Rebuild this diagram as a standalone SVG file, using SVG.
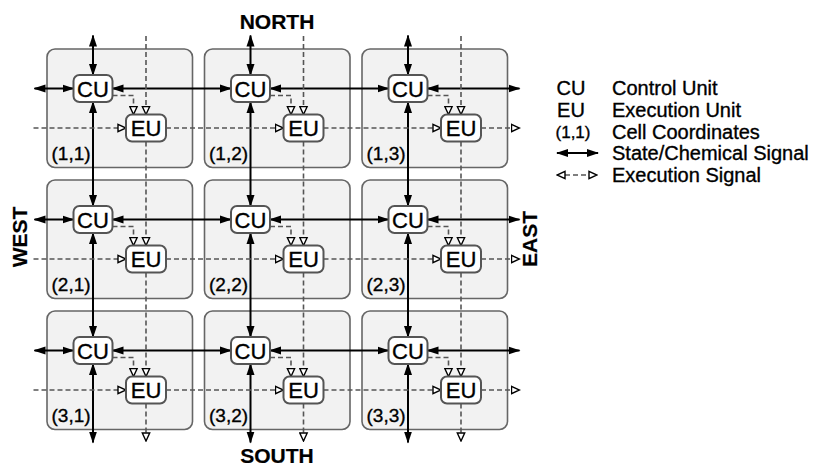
<svg xmlns="http://www.w3.org/2000/svg" width="832" height="466" viewBox="0 0 832 466">
<style>
.cell{fill:#f2f2f2;stroke:#666;stroke-width:1.6}
.box{fill:#fff;stroke:#555;stroke-width:2}
text{font-family:"Liberation Sans",Arial,sans-serif;fill:#000;stroke:#000;stroke-width:0.35}
.nt{font-size:22px;text-anchor:middle}
.lab{font-size:19px}
.dir{font-size:21px;font-weight:bold;text-anchor:middle;stroke-width:0.2}
.leg{font-size:20px}
.legc{font-size:20px;text-anchor:middle}
.s{stroke:#000;stroke-width:2;fill:none;marker-start:url(#sa);marker-end:url(#sa)}
.d{stroke:#555;stroke-width:1.6;stroke-dasharray:5,3;fill:none;marker-end:url(#oa)}
</style>
<defs>
<marker id="sa" markerUnits="userSpaceOnUse" markerWidth="12" markerHeight="10" viewBox="0 0 12 10" refX="11" refY="5" orient="auto-start-reverse"><path d="M0,1 L12,5 L0,9 z" fill="#000"/></marker>
<marker id="oa" markerUnits="userSpaceOnUse" markerWidth="10" markerHeight="10" viewBox="0 0 10 10" refX="9" refY="5" orient="auto-start-reverse"><path d="M1,1.3 L9,5 L1,8.7 z" fill="#fff" stroke="#000" stroke-width="1.4" stroke-linejoin="miter"/></marker>
</defs>

<g id="cells">
<g id="cell-1-1"><rect class="cell" x="47" y="49" width="145.5" height="118.5" rx="8"/><text class="lab" x="51.5" y="160">(1,1)</text></g>
<g id="cell-1-2"><rect class="cell" x="204.5" y="49" width="145.5" height="118.5" rx="8"/><text class="lab" x="209" y="160">(1,2)</text></g>
<g id="cell-1-3"><rect class="cell" x="362" y="49" width="145.5" height="118.5" rx="8"/><text class="lab" x="366.5" y="160">(1,3)</text></g>
<g id="cell-2-1"><rect class="cell" x="47" y="180" width="145.5" height="118.5" rx="8"/><text class="lab" x="51.5" y="291">(2,1)</text></g>
<g id="cell-2-2"><rect class="cell" x="204.5" y="180" width="145.5" height="118.5" rx="8"/><text class="lab" x="209" y="291">(2,2)</text></g>
<g id="cell-2-3"><rect class="cell" x="362" y="180" width="145.5" height="118.5" rx="8"/><text class="lab" x="366.5" y="291">(2,3)</text></g>
<g id="cell-3-1"><rect class="cell" x="47" y="311" width="145.5" height="118.5" rx="8"/><text class="lab" x="51.5" y="422">(3,1)</text></g>
<g id="cell-3-2"><rect class="cell" x="204.5" y="311" width="145.5" height="118.5" rx="8"/><text class="lab" x="209" y="422">(3,2)</text></g>
<g id="cell-3-3"><rect class="cell" x="362" y="311" width="145.5" height="118.5" rx="8"/><text class="lab" x="366.5" y="422">(3,3)</text></g>
</g>

<g id="connectors">
<line class="s" x1="93" y1="35.5" x2="93" y2="75"/><line class="s" x1="93" y1="102" x2="93" y2="206"/><line class="s" x1="93" y1="233" x2="93" y2="337"/><line class="s" x1="93" y1="364" x2="93" y2="442.5"/>
<line class="s" x1="250.5" y1="35.5" x2="250.5" y2="75"/><line class="s" x1="250.5" y1="102" x2="250.5" y2="206"/><line class="s" x1="250.5" y1="233" x2="250.5" y2="337"/><line class="s" x1="250.5" y1="364" x2="250.5" y2="442.5"/>
<line class="s" x1="408" y1="35.5" x2="408" y2="75"/><line class="s" x1="408" y1="102" x2="408" y2="206"/><line class="s" x1="408" y1="233" x2="408" y2="337"/><line class="s" x1="408" y1="364" x2="408" y2="442.5"/>
<line class="s" x1="34.5" y1="88.5" x2="73.5" y2="88.5"/><line class="s" x1="112.5" y1="88.5" x2="231" y2="88.5"/><line class="s" x1="270" y1="88.5" x2="388.5" y2="88.5"/><line class="s" x1="427.5" y1="88.5" x2="519.5" y2="88.5"/>
<line class="s" x1="34.5" y1="219.5" x2="73.5" y2="219.5"/><line class="s" x1="112.5" y1="219.5" x2="231" y2="219.5"/><line class="s" x1="270" y1="219.5" x2="388.5" y2="219.5"/><line class="s" x1="427.5" y1="219.5" x2="519.5" y2="219.5"/>
<line class="s" x1="34.5" y1="350.5" x2="73.5" y2="350.5"/><line class="s" x1="112.5" y1="350.5" x2="231" y2="350.5"/><line class="s" x1="270" y1="350.5" x2="388.5" y2="350.5"/><line class="s" x1="427.5" y1="350.5" x2="519.5" y2="350.5"/>
<line class="d" x1="146" y1="36" x2="146" y2="114.5"/><line class="d" x1="146" y1="141.5" x2="146" y2="245.5"/><line class="d" x1="146" y1="272.5" x2="146" y2="376.5"/><line class="d" x1="146" y1="403.5" x2="146" y2="441"/>
<line class="d" x1="303.5" y1="36" x2="303.5" y2="114.5"/><line class="d" x1="303.5" y1="141.5" x2="303.5" y2="245.5"/><line class="d" x1="303.5" y1="272.5" x2="303.5" y2="376.5"/><line class="d" x1="303.5" y1="403.5" x2="303.5" y2="441"/>
<line class="d" x1="461" y1="36" x2="461" y2="114.5"/><line class="d" x1="461" y1="141.5" x2="461" y2="245.5"/><line class="d" x1="461" y1="272.5" x2="461" y2="376.5"/><line class="d" x1="461" y1="403.5" x2="461" y2="441"/>
<line class="d" x1="33.5" y1="128" x2="126" y2="128"/><line class="d" x1="166" y1="128" x2="283.5" y2="128"/><line class="d" x1="323.5" y1="128" x2="441" y2="128"/><line class="d" x1="481" y1="128" x2="519.5" y2="128"/>
<line class="d" x1="33.5" y1="259" x2="126" y2="259"/><line class="d" x1="166" y1="259" x2="283.5" y2="259"/><line class="d" x1="323.5" y1="259" x2="441" y2="259"/><line class="d" x1="481" y1="259" x2="519.5" y2="259"/>
<line class="d" x1="33.5" y1="390" x2="126" y2="390"/><line class="d" x1="166" y1="390" x2="283.5" y2="390"/><line class="d" x1="323.5" y1="390" x2="441" y2="390"/><line class="d" x1="481" y1="390" x2="519.5" y2="390"/>
<path class="d" d="M112.5,95.5 H133.5 V114.5"/><path class="d" d="M270,95.5 H291 V114.5"/><path class="d" d="M427.5,95.5 H448.5 V114.5"/>
<path class="d" d="M112.5,226.5 H133.5 V245.5"/><path class="d" d="M270,226.5 H291 V245.5"/><path class="d" d="M427.5,226.5 H448.5 V245.5"/>
<path class="d" d="M112.5,357.5 H133.5 V376.5"/><path class="d" d="M270,357.5 H291 V376.5"/><path class="d" d="M427.5,357.5 H448.5 V376.5"/>
</g>

<g id="nodes">
<g id="cu-1-1"><rect class="box" x="73.5" y="75" width="39" height="27" rx="6"/><text class="nt" x="93" y="96.5">CU</text></g>
<g id="eu-1-1"><rect class="box" x="126" y="114.5" width="40" height="27" rx="6"/><text class="nt" x="146" y="136">EU</text></g>
<g id="cu-1-2"><rect class="box" x="231" y="75" width="39" height="27" rx="6"/><text class="nt" x="250.5" y="96.5">CU</text></g>
<g id="eu-1-2"><rect class="box" x="283.5" y="114.5" width="40" height="27" rx="6"/><text class="nt" x="303.5" y="136">EU</text></g>
<g id="cu-1-3"><rect class="box" x="388.5" y="75" width="39" height="27" rx="6"/><text class="nt" x="408" y="96.5">CU</text></g>
<g id="eu-1-3"><rect class="box" x="441" y="114.5" width="40" height="27" rx="6"/><text class="nt" x="461" y="136">EU</text></g>
<g id="cu-2-1"><rect class="box" x="73.5" y="206" width="39" height="27" rx="6"/><text class="nt" x="93" y="227.5">CU</text></g>
<g id="eu-2-1"><rect class="box" x="126" y="245.5" width="40" height="27" rx="6"/><text class="nt" x="146" y="267">EU</text></g>
<g id="cu-2-2"><rect class="box" x="231" y="206" width="39" height="27" rx="6"/><text class="nt" x="250.5" y="227.5">CU</text></g>
<g id="eu-2-2"><rect class="box" x="283.5" y="245.5" width="40" height="27" rx="6"/><text class="nt" x="303.5" y="267">EU</text></g>
<g id="cu-2-3"><rect class="box" x="388.5" y="206" width="39" height="27" rx="6"/><text class="nt" x="408" y="227.5">CU</text></g>
<g id="eu-2-3"><rect class="box" x="441" y="245.5" width="40" height="27" rx="6"/><text class="nt" x="461" y="267">EU</text></g>
<g id="cu-3-1"><rect class="box" x="73.5" y="337" width="39" height="27" rx="6"/><text class="nt" x="93" y="358.5">CU</text></g>
<g id="eu-3-1"><rect class="box" x="126" y="376.5" width="40" height="27" rx="6"/><text class="nt" x="146" y="398">EU</text></g>
<g id="cu-3-2"><rect class="box" x="231" y="337" width="39" height="27" rx="6"/><text class="nt" x="250.5" y="358.5">CU</text></g>
<g id="eu-3-2"><rect class="box" x="283.5" y="376.5" width="40" height="27" rx="6"/><text class="nt" x="303.5" y="398">EU</text></g>
<g id="cu-3-3"><rect class="box" x="388.5" y="337" width="39" height="27" rx="6"/><text class="nt" x="408" y="358.5">CU</text></g>
<g id="eu-3-3"><rect class="box" x="441" y="376.5" width="40" height="27" rx="6"/><text class="nt" x="461" y="398">EU</text></g>
</g>

<g id="directions">
<text class="dir" x="277" y="29">NORTH</text>
<text class="dir" x="277" y="463">SOUTH</text>
<text class="dir" transform="translate(27,237) rotate(-90)">WEST</text>
<text class="dir" transform="translate(537,239) rotate(-90)">EAST</text>
</g>

<g id="legend">
<text class="legc" x="571" y="95">CU</text><text class="leg" x="612" y="95">Control Unit</text>
<text class="legc" x="571" y="117">EU</text><text class="leg" x="612" y="117">Execution Unit</text>
<text class="legc" x="573" y="138" style="font-size:17px">(1,1)</text><text class="leg" x="612" y="139">Cell Coordinates</text>
<line class="s" x1="557" y1="153" x2="598" y2="153"/><text class="leg" x="612" y="160">State/Chemical Signal</text>
<line class="d" style="marker-start:url(#oa)" x1="557" y1="175" x2="597" y2="175"/><text class="leg" x="612" y="182">Execution Signal</text>
</g>
</svg>
